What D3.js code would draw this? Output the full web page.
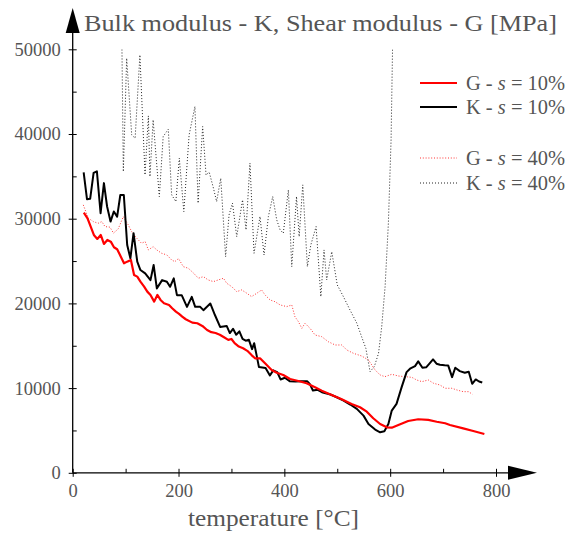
<!DOCTYPE html>
<html><head><meta charset="utf-8">
<script src="https://cdn.jsdelivr.net/npm/d3@7"></script>
<style>body{margin:0;background:#fff}svg{display:block}</style>
</head><body><svg id="c" width="572" height="533"></svg>
<script>
// ---- data (temperature in °C, modulus in MPa) ----
const g10T = [21,28,34,40,46.5,53,59,65.5,72,78,84,91,97,103,110,116,122,128,135,141,147,154,160,166,172.6,182,188,195,201,207,213.6,226,235.5,245,254,262,270,278,286,294,300,306,314,322,330,338,344.6,354,363.5,376,385.6,398,410.8,426.5,442,458,470.7,489.6,508.5,527,543,555.8,568,581,593.6,603,615.5,634,653,672,688,704,713,738,757,778];
const g10V = [30720,30050,29070,28080,27610,28080,27020,27490,27290,26630,26390,25520,24740,24930,25130,23360,23160,22570,21980,21390,21000,20210,21000,20410,20020,19820,19430,19030,18760,18430,18130,17730,17660,17340,16860,16600,16500,16300,16000,15700,15800,15300,14900,14700,14400,13900,13520,13520,12930,12140,11820,11550,11080,10840,10570,10100,9700,9190,8680,8130,7740,7220,6440,5760,5370,5330,5650,6120,6320,6240,6030,5850,5650,5250,4940,4580];

const k10T = [20.7,27,33,39.5,45.7,52.7,59,65,71.5,77.7,84,90,96.6,103,109,115,122,128,137,147,153,159,169,178,184,191,197,206,216,225,231.5,241,247,260,269,278.6,291,297,303,309,315,321,327,333,339,343,352,364.5,372.7,379,386.5,392.8,401,410,421,432,443,448,454,463,471,487,499,512,524.5,537,549.6,559,571.6,581,589,596.6,603,612,621.7,631,637.5,647,653,661,668,675,681,687.6,694,703,709.6,717,723,731.6,741,748.5,755,761.7,768,774];
const k10V = [35470,32300,32350,35400,35600,30650,34200,31440,29660,30850,30250,32800,32800,26900,25320,28290,24920,23940,23540,22750,24530,21770,22750,22550,21960,22950,20970,20970,19590,20770,19590,19590,19200,19990,18600,17220,17340,16500,17000,16300,16700,15800,15600,15700,14600,15300,12480,12360,11490,12090,11890,11020,11220,10820,10780,10800,10820,10500,9720,9800,9520,9240,8920,8530,8060,7550,6750,5770,5100,4780,4900,5770,7350,8140,10110,11890,12290,12600,13150,12400,12450,12950,13390,12880,12760,12700,12680,11290,12400,12010,11810,11930,10510,11020,10780,10660];

const g40T = [20,29.5,39,48,55,61,70.5,77,86,95.7,105,111.5,121,130,137,143,152,159,168,178,187,193,200,209,218.5,228,237.5,247,256,266,275,285,291,300.5,310,319.5,329,338,348,357,363.5,373,382,392,404.5,414,420,426.5,433,439,448.6,458,470.7,483,496,508.5,518,530.5,546,559,571.5,581,590,603,615.5,628,641,650,660,672,682,694,704,716.5,726,738,748,755.5];
const g40V = [31630,30060,29660,29460,29660,29070,29000,28290,28800,30250,29270,28470,27700,27100,27290,26310,26700,26310,25920,25720,25130,24930,25300,24340,24150,23600,22970,23160,22770,22570,22770,22970,22380,21980,21390,21590,21200,20800,21200,21590,21000,20410,20210,19820,19620,19820,18430,17850,17060,17650,17060,16270,16070,15480,15090,15090,14500,14110,13790,13320,12140,11550,11350,11630,11430,11350,11270,10960,10760,10960,10570,10370,9980,9980,9780,9580,9580,9270];

const k40T = [92,95.7,102,111.5,118,127,136.7,143,146,152,163.7,171,180.7,187,195,201.5,210,220,231,237,245.6,252,258,266,272,279.8,289,295.5,302,310,321,327.6,335,342.7,354,361.6,369.8,378,385.6,392,398,407.6,414,423,428,434.8,443.5,450,460,469,475,480,489.6,500,511.6,524,537,546,554,562,570,578,584,590.4,596.6,601.7,606];
const k40V = [56000,35560,48950,39890,39500,49340,35170,42140,34970,41670,32610,39700,40560,32810,32020,37140,30840,39890,43240,31830,40880,35170,35500,33600,32020,34780,25520,30450,31830,27880,32220,28680,36550,25920,30250,25720,30250,32610,29860,28680,28290,33400,24340,32610,27880,33990,24340,26900,29070,20800,26310,22770,26110,22180,20800,19230,17660,16070,14700,11940,12530,14110,17250,21980,29460,39300,56000];

const xTicks = [0,200,400,600,800];
const xMinor = [100,300,500,700];
const yTicks = [0,10000,20000,30000,40000,50000];
const yMinor = [5000,15000,25000,35000,45000];
const legendLabels = [["G","10%"],["K","10%"],["G","40%"],["K","40%"]];

// ---- drawing ----
const svg = d3.select("#c");
const font = "'Liberation Serif', 'DejaVu Serif', serif";
const txt = "#555";
const x = d3.scaleLinear().domain([0,800]).range([72.7,496]);
const y = d3.scaleLinear().domain([0,50000]).range([472.8,49.3]);

svg.append("defs").append("clipPath").attr("id","clip")
  .append("rect").attr("x",x(0)).attr("y",y(50000)).attr("width",x(800)-x(0)+30).attr("height",y(0)-y(50000));

const zip = (a,b)=>a.map((t,i)=>[t,b[i]]);
const line = d3.line().x(d=>x(d[0])).y(d=>y(d[1]));
const plot = svg.append("g").attr("clip-path","url(#clip)");
const series = [
  {d:zip(k40T,k40V), c:"#222", w:1, dash:"1,2"},
  {d:zip(g40T,g40V), c:"#ff3333", w:1, dash:"1,1.8"},
  {d:zip(k10T,k10V), c:"#000", w:2, dash:null},
  {d:zip(g10T,g10V), c:"#ff0000", w:2.2, dash:null}
];
series.forEach(s=>{
  plot.append("path").datum(s.d).attr("d",line).attr("fill","none")
    .attr("stroke",s.c).attr("stroke-width",s.w).attr("stroke-linejoin","round")
    .attr("stroke-dasharray",s.dash);
});

// axes
const axG = svg.append("g");
const xAx = axG.append("g").attr("transform",`translate(0,${y(0)})`)
  .call(d3.axisBottom(x).tickValues(xTicks).tickSize(4).tickPadding(7).tickFormat(d3.format("d")));
xAx.select(".domain").remove();
xAx.selectAll(".tick line").attr("y1",-4).attr("y2",4).attr("stroke","#000");
xAx.selectAll("text").attr("font-family",font).attr("font-size",18.5).attr("fill",txt);
const xAxm = axG.append("g").attr("transform",`translate(0,${y(0)})`)
  .call(d3.axisBottom(x).tickValues(xMinor).tickSize(4).tickFormat(""));
xAxm.select(".domain").remove();
xAxm.selectAll(".tick line").attr("y1",-4).attr("y2",0).attr("stroke","#000");

const yAx = axG.append("g").attr("transform",`translate(${x(0)},0)`)
  .call(d3.axisLeft(y).tickValues(yTicks).tickSize(4).tickPadding(8).tickFormat(d3.format("d")));
yAx.select(".domain").remove();
yAx.selectAll(".tick line").attr("x1",-4).attr("x2",4).attr("stroke","#000");
yAx.selectAll("text").attr("font-family",font).attr("font-size",18.5).attr("fill",txt);
const yAxm = axG.append("g").attr("transform",`translate(${x(0)},0)`)
  .call(d3.axisLeft(y).tickValues(yMinor).tickSize(4).tickFormat(""));
yAxm.select(".domain").remove();
yAxm.selectAll(".tick line").attr("x1",0).attr("x2",4).attr("stroke","#000");

// axis lines with arrows
axG.append("line").attr("x1",x(0)).attr("x2",508).attr("y1",y(0)).attr("y2",y(0)).attr("stroke","#000").attr("stroke-width",1.3);
axG.append("path").attr("d",`M508,${y(0)-7}L537,${y(0)}L508,${y(0)+7}Z`).attr("fill","#000");
axG.append("line").attr("x1",x(0)).attr("x2",x(0)).attr("y1",y(0)).attr("y2",32).attr("stroke","#000").attr("stroke-width",1.3);
axG.append("path").attr("d",`M${x(0)-7},33L${x(0)},8L${x(0)+7},33Z`).attr("fill","#000");

// title & axis label
svg.append("text").attr("x",84).attr("y",31).attr("font-family",font).attr("font-size",24)
  .attr("fill",txt).attr("textLength",473).attr("lengthAdjust","spacingAndGlyphs")
  .text("Bulk modulus - K, Shear modulus - G [MPa]");
svg.append("text").attr("x",188).attr("y",526).attr("font-family",font).attr("font-size",23)
  .attr("fill",txt).attr("textLength",171).attr("lengthAdjust","spacingAndGlyphs")
  .text("temperature [°C]");

// legend
const legY = [83,107,158,183];
const leg = svg.append("g");
legendLabels.forEach((l,i)=>{
  const s = [series[3],series[2],series[1],series[0]][i];
  leg.append("line").attr("x1",420).attr("x2",457).attr("y1",legY[i]).attr("y2",legY[i])
    .attr("stroke",s.c).attr("stroke-width",s.w).attr("stroke-dasharray",s.dash);
  const t = leg.append("text").attr("x",466).attr("y",legY[i]+7).attr("font-family",font)
    .attr("font-size",20).attr("fill",txt).attr("textLength",99).attr("lengthAdjust","spacingAndGlyphs");
  t.append("tspan").text(l[0]+" - ");
  t.append("tspan").attr("font-style","italic").text("s");
  t.append("tspan").text(" = "+l[1]);
});
</script></body></html>
